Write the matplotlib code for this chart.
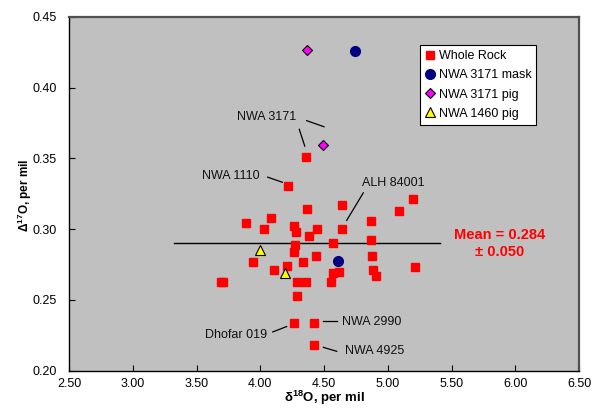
import matplotlib
matplotlib.use("Agg")
import matplotlib.pyplot as plt

plt.rcParams['font.family'] = ['Liberation Sans', 'DejaVu Sans']
plt.rcParams['mathtext.fontset'] = 'custom'
plt.rcParams['mathtext.rm'] = 'Liberation Sans'
plt.rcParams['mathtext.bf'] = 'Liberation Sans:bold'

# === Data ===
whole_rock_x = [3.695, 3.710, 3.888, 3.941, 4.029, 4.082, 4.106, 4.207, 4.215, 4.265,
                4.280, 4.275, 4.267, 4.288, 4.288, 4.265, 4.335, 4.359, 4.364, 4.359,
                4.380, 4.422, 4.422, 4.437, 4.447, 4.553, 4.568, 4.573, 4.618, 4.641,
                4.641, 4.866, 4.866, 4.874, 4.882, 4.910, 5.088, 5.196, 5.214]
whole_rock_y = [0.263, 0.263, 0.304, 0.277, 0.300, 0.308, 0.271, 0.274, 0.3305, 0.302,
                0.298, 0.2885, 0.284, 0.263, 0.253, 0.2335, 0.277, 0.351, 0.314, 0.263,
                0.295, 0.234, 0.218, 0.281, 0.300, 0.2625, 0.290, 0.269, 0.270, 0.317,
                0.300, 0.3055, 0.292, 0.281, 0.271, 0.267, 0.3126, 0.321, 0.273]
mask_x = [4.746, 4.612]
mask_y = [0.4257, 0.2774]
pig3171_x = [4.364, 4.490]
pig3171_y = [0.4266, 0.3591]
pig1460_x = [4.000, 4.192]
pig1460_y = [0.2852, 0.2689]

mean_line_x = [3.32, 5.41]
mean_line_y = [0.290, 0.290]
mean_text = "Mean = 0.284\n± 0.050"

# sample labels: (text, text x, text y, leader start, leader end)
labels = [
    ("NWA 3171", 4.053, 0.3794, (4.306, 0.3705), (4.349, 0.3586)),
    ("NWA 1110", 3.769, 0.3376, (4.058, 0.3367), (4.173, 0.3331)),
    ("ALH 84001", 5.040, 0.3327, (4.808, 0.3256), (4.678, 0.3062)),
    ("Dhofar 019", 3.810, 0.2255, (4.098, 0.2274), (4.207, 0.2312)),
    ("NWA 2990", 4.870, 0.2342, (4.495, 0.2354), (4.600, 0.2354)),
    ("NWA 4925", 4.898, 0.2137, (4.495, 0.2165), (4.600, 0.2137)),
]
extra_leader = ((4.364, 0.3766), (4.500, 0.3723))

x_ticks = [2.5, 3.0, 3.5, 4.0, 4.5, 5.0, 5.5, 6.0, 6.5]
y_ticks = [0.20, 0.25, 0.30, 0.35, 0.40, 0.45]

# === Plot ===
fig = plt.figure(figsize=(5.96, 4.18), dpi=100)
ax = fig.add_axes([0.1158, 0.1131, 0.8557, 0.8469])
ax.set_facecolor('#C0C0C0')

ax.plot(mean_line_x, mean_line_y, color='black', lw=1.0, zorder=2)

ax.plot(whole_rock_x, whole_rock_y, 's', color='#FF0000', ms=6, mec='#FF0000',
        label='Whole Rock', zorder=3)
ax.plot(mask_x, mask_y, 'o', color='#000080', ms=7, mec='#000080',
        label='NWA 3171 mask', zorder=3)
ax.plot(pig3171_x, pig3171_y, 'D', color='#FF00FF', ms=5, mec='black', mew=0.8,
        label='NWA 3171 pig', zorder=3)
ax.plot(pig1460_x, pig1460_y, '^', color='#FFFF00', ms=7, mec='black', mew=0.8,
        label='NWA 1460 pig', zorder=3)

for text, tx, ty, p0, p1 in labels:
    ax.text(tx, ty, text, ha='center', va='center', fontsize=9, color='#111111')
    ax.plot([p0[0], p1[0]], [p0[1], p1[1]], color='black', lw=0.9, zorder=2)
ax.plot([extra_leader[0][0], extra_leader[1][0]],
        [extra_leader[0][1], extra_leader[1][1]], color='black', lw=0.9, zorder=2)

ax.text(5.88, 0.2896, mean_text, ha='center', va='center', multialignment='center',
        fontsize=10.5, fontweight='bold', color='#FF0000', linespacing=1.3)

ax.set_xlim(2.5, 6.5)
ax.set_ylim(0.20, 0.45)
ax.set_xticks(x_ticks)
ax.set_yticks(y_ticks)
ax.set_xticklabels([f"{v:.2f}" for v in x_ticks])
ax.set_yticklabels([f"{v:.2f}" for v in y_ticks])
ax.tick_params(direction='in', length=4, width=0.8, labelsize=9, colors='black', pad=9)
ax.tick_params(axis='x', pad=5)

ax.set_xlabel(r'δ$^{\mathbf{18}}$O, per mil', fontsize=9.5, fontweight='bold')
ax.set_ylabel(r'Δ$^{\mathbf{17}}$O, per mil', fontsize=8.5, fontweight='bold')
ax.xaxis.label.set_va('center')
ax.yaxis.label.set_va('center')
ax.xaxis.set_label_coords(0.5, -0.077)
ax.yaxis.set_label_coords(-0.086, 0.496)

for side in ['top', 'right']:
    ax.spines[side].set_color('#505050')
    ax.spines[side].set_linewidth(1.6)
for side in ['bottom', 'left']:
    ax.spines[side].set_color('black')
    ax.spines[side].set_linewidth(1.0)

leg = ax.legend(loc='upper left', bbox_to_anchor=(0.688, 0.920), fontsize=9,
                frameon=True, fancybox=False, framealpha=1, edgecolor='black',
                handlelength=0.8, handletextpad=0.3, borderpad=0.4,
                labelspacing=0.58, borderaxespad=0)
leg.get_frame().set_linewidth(0.8)

fig.savefig('out.png', dpi=100, facecolor='white')
